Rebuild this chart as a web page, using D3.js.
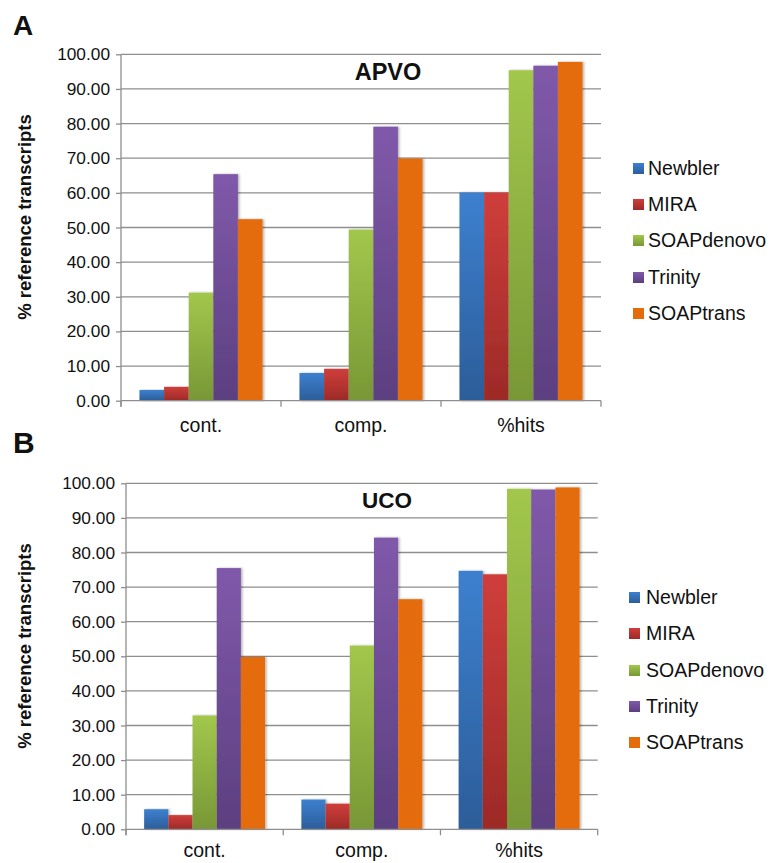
<!DOCTYPE html>
<html>
<head>
<meta charset="utf-8">
<script src="https://cdn.jsdelivr.net/npm/d3@7"></script>
<style>
  html, body { margin: 0; padding: 0; background: #fff; }
  svg { display: block; }
  text { font-family: "Liberation Sans", Arial, Helvetica, sans-serif; fill: #111; }
</style>
</head>
<body>
<svg id="chart" width="771" height="863"></svg>
<script>
// ---------- data ----------
const categories = ["cont.", "comp.", "%hits"];
const seriesNames = ["Newbler", "MIRA", "SOAPdenovo", "Trinity", "SOAPtrans"];
const yTicks = [0, 10, 20, 30, 40, 50, 60, 70, 80, 90, 100];

// Panel A (APVO): values per series, in category order
const apvoNewbler    = [3.1, 8.0, 60.1];
const apvoMIRA       = [4.0, 9.2, 60.1];
const apvoSOAPdenovo = [31.2, 49.4, 95.4];
const apvoTrinity    = [65.4, 79.1, 96.7];
const apvoSOAPtrans  = [52.4, 69.9, 97.8];

// Panel B (UCO)
const ucoNewbler    = [5.8, 8.6, 74.7];
const ucoMIRA       = [4.1, 7.4, 73.7];
const ucoSOAPdenovo = [32.9, 53.1, 98.4];
const ucoTrinity    = [75.5, 84.3, 98.2];
const ucoSOAPtrans  = [49.8, 66.5, 98.8];

const colorsTop    = ["#3d80cf", "#cf3e3b", "#a2c74c", "#8059aa", "#e46c0a"];
const colorsBottom = ["#2c5d99", "#9c2a27", "#789736", "#5c3f80", "#e46c0a"];

const panels = [
  { letter: "A", title: "APVO", values: [apvoNewbler, apvoMIRA, apvoSOAPdenovo, apvoTrinity, apvoSOAPtrans],
    x0: 121, x1: 601, yTop: 54.3, yBot: 400.7, letterY: 35, letterSize: 28, titleX: 388, titleY: 80, titleSize: 23.5,
    catDy: 31.5, labelY: 217, legX: 633, legTextX: 648, legRows: [168, 204, 240, 277, 313] },
  { letter: "B", title: "UCO", values: [ucoNewbler, ucoMIRA, ucoSOAPdenovo, ucoTrinity, ucoSOAPtrans],
    x0: 126, x1: 597.7, yTop: 483.3, yBot: 829.3, letterY: 453, letterSize: 30, titleX: 387, titleY: 508, titleSize: 22.5,
    catDy: 28, labelY: 646, legX: 629, legTextX: 646, legRows: [597, 633, 670, 706, 742] }
];

const svg = d3.select("#chart");
const defs = svg.append("defs");
seriesNames.forEach((s, i) => {
  const g = defs.append("linearGradient").attr("id", "grad" + i)
    .attr("x1", 0).attr("y1", 0).attr("x2", 0).attr("y2", 1);
  g.append("stop").attr("offset", "0%").attr("stop-color", colorsTop[i]);
  g.append("stop").attr("offset", "100%").attr("stop-color", colorsBottom[i]);
});
const f = defs.append("filter").attr("id", "shadow").attr("x", "-20%").attr("y", "-5%").attr("width", "150%").attr("height", "110%");
f.append("feDropShadow").attr("dx", 1.5).attr("dy", 0).attr("stdDeviation", 1).attr("flood-color", "#000").attr("flood-opacity", 0.3);

const gridColor = "#8e8e8e";

panels.forEach(p => {
  const g = svg.append("g");
  const x = d3.scaleBand().domain(categories).range([p.x0, p.x1]).paddingInner(0).paddingOuter(0);
  const xs = d3.scaleBand().domain(seriesNames).range([0, x.bandwidth()]).paddingInner(0).paddingOuter(0.75);
  const y = d3.scaleLinear().domain([0, 100]).range([p.yBot, p.yTop]);

  // gridlines
  g.append("g").selectAll("line").data(yTicks.filter(t => t > 0)).join("line")
    .attr("x1", p.x0).attr("x2", p.x1)
    .attr("y1", d => y(d)).attr("y2", d => y(d))
    .attr("stroke", gridColor).attr("stroke-width", 1.3);

  // left axis
  const yAxis = d3.axisLeft(y).tickValues(yTicks).tickFormat(d3.format(".2f")).tickSize(5).tickPadding(6);
  const ya = g.append("g").attr("transform", `translate(${p.x0},0)`).call(yAxis);
  ya.select(".domain").attr("stroke", gridColor).attr("stroke-width", 1.3).attr("d", `M0,${p.yTop}V${p.yBot + 6}`);
  ya.selectAll(".tick line").attr("stroke", gridColor).attr("stroke-width", 1.3);
  ya.selectAll(".tick text").attr("font-size", "17.3px").attr("fill", "#111")
    .style("font-family", '"Liberation Sans", Arial, Helvetica, sans-serif');

  // bars
  seriesNames.forEach((s, i) => {
    g.append("g").selectAll("rect").data(categories.map((c, j) => ({ c, v: p.values[i][j] }))).join("rect")
      .attr("x", d => x(d.c) + xs(s))
      .attr("y", d => y(d.v))
      .attr("width", xs.bandwidth())
      .attr("height", d => y(0) - y(d.v))
      .attr("fill", `url(#grad${i})`)
      .attr("filter", "url(#shadow)");
  });

  // bottom axis
  const xa = g.append("g").attr("transform", `translate(0,${p.yBot})`);
  xa.append("line").attr("x1", p.x0).attr("x2", p.x1).attr("stroke", gridColor).attr("stroke-width", 1.3);
  xa.selectAll(".tk").data(categories.map(c => x(c)).concat([p.x1])).join("line")
    .attr("x1", d => d).attr("x2", d => d).attr("y1", 0).attr("y2", 6)
    .attr("stroke", gridColor).attr("stroke-width", 1.3);
  xa.selectAll("text").data(categories).join("text")
    .attr("x", d => x(d) + x.bandwidth() / 2).attr("y", p.catDy)
    .attr("text-anchor", "middle").attr("font-size", "19.5px").text(d => d);

  // title
  g.append("text").attr("x", p.titleX).attr("y", p.titleY).attr("text-anchor", "middle")
    .attr("font-size", p.titleSize + "px").attr("font-weight", "bold").text(p.title);

  // panel letter
  g.append("text").attr("x", 13).attr("y", p.letterY)
    .attr("font-size", p.letterSize + "px").attr("font-weight", "bold").text(p.letter);

  // y label
  g.append("text").attr("transform", `translate(25,${p.labelY}) rotate(-90)`)
    .attr("text-anchor", "middle").attr("dy", "0.35em")
    .attr("font-size", "18.5px").attr("font-weight", "bold").text("% reference transcripts");

  // legend
  const lg = g.append("g");
  seriesNames.forEach((s, i) => {
    lg.append("rect").attr("x", p.legX).attr("y", p.legRows[i] - 5).attr("width", 11).attr("height", 11)
      .attr("fill", `url(#grad${i})`);
    lg.append("text").attr("x", p.legTextX).attr("y", p.legRows[i]).attr("dy", "0.35em")
      .attr("font-size", "19.5px").text(s);
  });
});
</script>
</body>
</html>
